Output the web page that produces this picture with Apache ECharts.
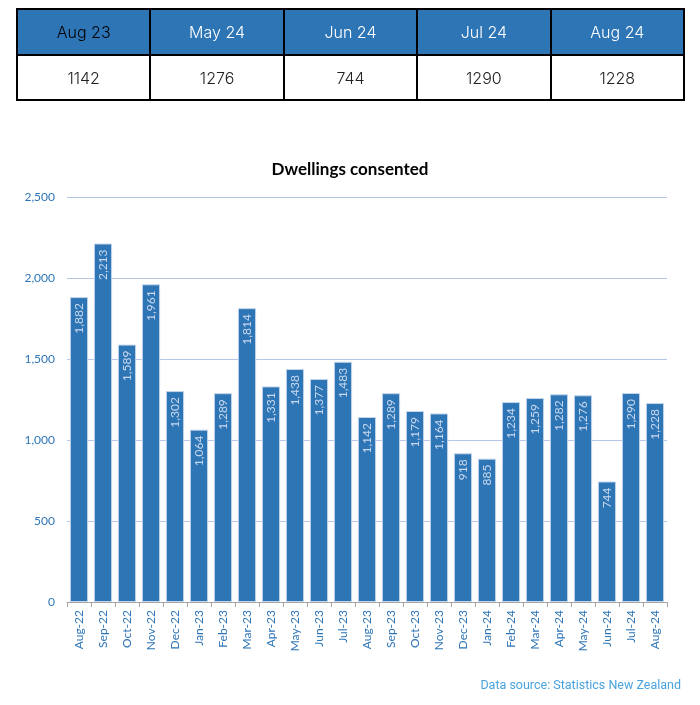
<!DOCTYPE html>
<html>
<head>
<meta charset="utf-8">
<script src="https://cdn.jsdelivr.net/npm/echarts@6/dist/echarts.min.js"></script>
<style>
  html, body { margin: 0; padding: 0; background: #fff; }
  #wrap { position: relative; width: 700px; height: 705px; }
  #chart { position: absolute; left: 0; top: 0; width: 700px; height: 705px; }
  table { position: absolute; left: 16px; top: 8px; width: 669px; border-collapse: collapse; font-family: Inter, "Noto Sans", sans-serif; font-size: 16px; z-index: 2; table-layout: fixed; }
  td, th { border: 2px solid #000; text-align: center; font-weight: 300; }
  th { background: #2e75b6; color: #fff; height: 44px; padding: 0; }
  td { height: 43px; color: #222; padding: 0; }
</style>
</head>
<body>
<div id="wrap">
<div id="chart"></div>
<table id="tbl"><tr id="hdr"></tr><tr id="vals"></tr></table>
</div>
<script>
const tableHeaders = ["Aug 23", "May 24", "Jun 24", "Jul 24", "Aug 24"];
const tableValues = [1142, 1276, 744, 1290, 1228];

const categories = ["Aug-22","Sep-22","Oct-22","Nov-22","Dec-22","Jan-23","Feb-23","Mar-23","Apr-23","May-23","Jun-23","Jul-23","Aug-23","Sep-23","Oct-23","Nov-23","Dec-23","Jan-24","Feb-24","Mar-24","Apr-24","May-24","Jun-24","Jul-24","Aug-24"];
const dwellings = [1882,2213,1589,1961,1302,1064,1289,1814,1331,1438,1377,1483,1142,1289,1179,1164,918,885,1234,1259,1282,1276,744,1290,1228];
const yTicks = [0, 500, 1000, 1500, 2000, 2500];

const hdr = document.getElementById('hdr');
const vals = document.getElementById('vals');
tableHeaders.forEach((h, i) => {
  const th = document.createElement('th');
  th.textContent = h;
  if (i === 0) th.style.color = '#000';
  hdr.appendChild(th);
});
tableValues.forEach(v => {
  const td = document.createElement('td');
  td.textContent = String(v);
  vals.appendChild(td);
});

const chart = echarts.init(document.getElementById('chart'));
chart.setOption({
  animation: false,
  title: [{
    text: 'Dwellings consented',
    left: 'center',
    top: 156,
    textStyle: { fontFamily: 'Lato, "Noto Sans", sans-serif', fontWeight: 'bold', fontSize: 17, color: '#000' }
  }, {
    text: 'Data source: Statistics New Zealand',
    right: 14,
    top: 674,
    textStyle: { fontFamily: 'Roboto, sans-serif', fontWeight: 'normal', fontSize: 12.5, color: '#4aa3df' }
  }],
  grid: { left: 67, right: 33, top: 197, bottom: 103, containLabel: false },
  xAxis: {
    type: 'category',
    data: categories,
    axisLine: { lineStyle: { color: '#a6a6a6', width: 1 } },
    axisTick: { show: true, lineStyle: { color: '#a6a6a6' }, length: 5 },
    axisLabel: { rotate: 90, color: '#2e75b6', fontSize: 12, fontFamily: 'Lato, "Noto Sans", sans-serif', margin: 8, interval: 0 }
  },
  yAxis: {
    type: 'value',
    min: yTicks[0],
    max: yTicks[yTicks.length - 1],
    interval: 500,
    axisLine: { show: false },
    axisTick: { show: false },
    splitLine: { lineStyle: { color: '#b4c7e7', width: 1 } },
    axisLabel: {
      color: '#2e75b6', fontSize: 12, fontFamily: 'Lato, "Noto Sans", sans-serif', margin: 12,
      formatter: v => v.toLocaleString('en-US')
    }
  },
  series: [{
    type: 'bar',
    data: dwellings,
    barCategoryGap: '24%',
    itemStyle: { color: '#2e75b6', borderColor: '#c5d6ec', borderWidth: 1 },
    label: {
      show: true,
      position: 'insideTop',
      rotate: 90,
      align: 'right',
      verticalAlign: 'middle',
      distance: 6,
      color: '#c9d9ee',
      fontSize: 12,
      fontFamily: 'Lato, "Noto Sans", sans-serif',
      formatter: p => p.value.toLocaleString('en-US')
    }
  }]
});
</script>
</body>
</html>
